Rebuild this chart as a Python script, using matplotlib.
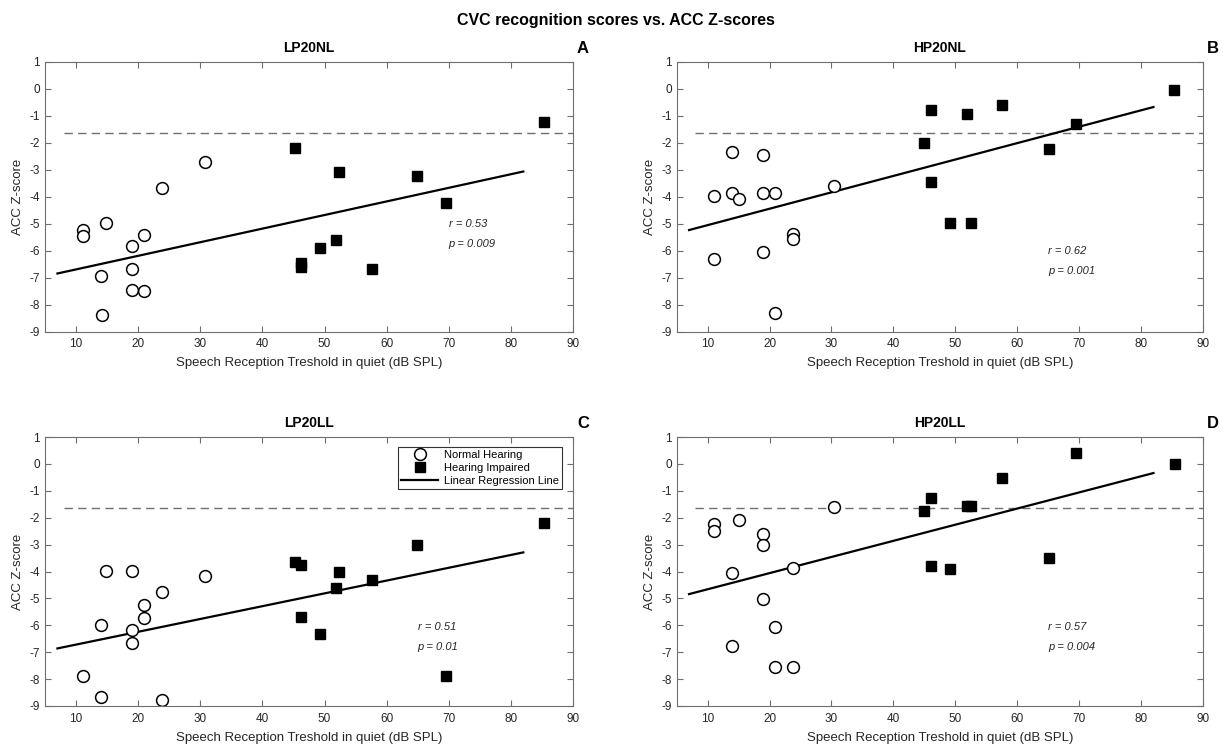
import matplotlib.pyplot as plt

plt.rcParams['font.family'] = ['Liberation Sans', 'DejaVu Sans']
plt.rcParams['axes.unicode_minus'] = False

# speech reception threshold (x) and ACC z-score (y), per condition
srt_nh_A = [11.1, 11.1, 14.9, 14.0, 14.1, 19.0, 19.0, 19.0, 20.9, 20.9, 23.9, 30.7]
z_nh_A = [-5.22, -5.46, -4.98, -6.95, -8.4, -5.82, -6.69, -7.46, -5.44, -7.5, -3.67, -2.71]
srt_hi_A = [45.2, 46.2, 46.2, 49.2, 51.8, 52.4, 57.6, 64.9, 69.5, 85.4]
z_hi_A = [-2.19, -6.45, -6.6, -5.92, -5.61, -3.09, -6.7, -3.22, -4.23, -1.24]

srt_nh_B = [11.0, 11.0, 13.9, 13.9, 15.0, 18.9, 18.9, 18.9, 20.9, 20.9, 23.8, 23.8, 30.4]
z_nh_B = [-3.98, -6.32, -2.34, -3.85, -4.08, -2.47, -3.85, -6.05, -3.85, -8.33, -5.40, -5.58, -3.61]
srt_hi_B = [44.9, 46.1, 46.1, 49.1, 51.9, 52.5, 57.5, 65.1, 69.5, 85.3]
z_hi_B = [-2.02, -0.78, -3.46, -4.96, -0.93, -4.96, -0.59, -2.25, -1.3, -0.06]

srt_nh_C = [14.9, 19.0, 30.7, 23.9, 20.9, 20.9, 14.0, 19.0, 19.0, 11.1, 14.0, 23.9]
z_nh_C = [-3.98, -3.98, -4.16, -4.76, -5.25, -5.74, -6.0, -6.17, -6.65, -7.89, -8.67, -8.76]
srt_hi_C = [45.2, 46.2, 46.2, 49.2, 51.8, 52.4, 57.6, 64.9, 69.5, 85.4]
z_hi_C = [-3.63, -3.75, -5.69, -6.31, -4.62, -4.02, -4.31, -3.0, -7.89, -2.2]

srt_nh_D = [11.0, 11.0, 15.0, 18.9, 18.9, 30.4, 23.85, 13.9, 18.9, 20.9, 13.9, 20.9, 23.85]
z_nh_D = [-2.24, -2.51, -2.09, -2.61, -3.02, -1.59, -3.88, -4.07, -5.03, -6.05, -6.78, -7.54, -7.54]
srt_hi_D = [44.9, 46.1, 46.1, 49.1, 51.9, 52.6, 57.5, 65.1, 69.5, 85.4]
z_hi_D = [-1.76, -1.27, -3.79, -3.9, -1.55, -1.55, -0.53, -3.48, 0.40, -0.02]

# regression line end points
reg_x = [7, 82]
reg_A = [-6.85, -3.07]
reg_B = [-5.24, -0.68]
reg_C = [-6.86, -3.29]
reg_D = [-4.84, -0.34]

r_vals = ['0.53', '0.62', '0.51', '0.57']
p_vals = ['0.009', '0.001', '0.01', '0.004']
titles = ['LP20NL', 'HP20NL', 'LP20LL', 'HP20LL']
letters = ['A', 'B', 'C', 'D']
z_crit = -1.645

panels = [
    (srt_nh_A, z_nh_A, srt_hi_A, z_hi_A, reg_A),
    (srt_nh_B, z_nh_B, srt_hi_B, z_hi_B, reg_B),
    (srt_nh_C, z_nh_C, srt_hi_C, z_hi_C, reg_C),
    (srt_nh_D, z_nh_D, srt_hi_D, z_hi_D, reg_D),
]

W, H = 1232, 744
fig = plt.figure(figsize=(W / 100, H / 100), dpi=100)

# axes boxes in pixels: left, right, top, bottom
boxes = [(45, 573, 61.7, 331.5), (676.7, 1203, 61.7, 331.5),
         (45, 573, 437, 706), (676.7, 1203, 437, 706)]
stat_pos = [(70, -5.0), (65, -6.03), (65, -6.07), (65, -6.07)]

spine_col = '#6e6e6e'
text_col = '#262626'

for i, (nx, ny, hx, hy, reg) in enumerate(panels):
    l, r, t, b = boxes[i]
    ax = fig.add_axes([l / W, 1 - b / H, (r - l) / W, (b - t) / H])
    ax.plot([8, 90], [z_crit, z_crit], color='#707070', lw=1, ls=(0, (6, 3.8)))
    ax.plot(reg_x, reg, color='black', lw=1.6, label='Linear Regression Line')
    ax.plot(nx, ny, 'o', ms=8.5, mfc='white', mec='black', mew=1.1, ls='none',
            label='Normal Hearing')
    ax.plot(hx, hy, 's', ms=7.2, mfc='black', mec='black', ls='none',
            label='Hearing Impaired')
    ax.set_xlim(5, 90)
    ax.set_ylim(-9, 1)
    ax.set_xticks(range(10, 91, 10))
    ax.set_yticks(range(-9, 2))
    ax.tick_params(direction='in', top=True, right=True, length=4, width=0.8,
                   colors=spine_col, labelcolor=text_col, labelsize=8.5)
    ax.tick_params(axis='x', pad=5)
    for s in ax.spines.values():
        s.set_color(spine_col)
        s.set_linewidth(0.8)
    ax.set_xlabel('Speech Reception Treshold in quiet (dB SPL)', fontsize=9.5,
                  color=text_col, labelpad=5)
    ax.set_ylabel('ACC Z-score', fontsize=9.5, color=text_col, labelpad=4)
    ax.set_title(titles[i], fontsize=10, fontweight='bold', pad=7)
    ax.text(1.019, 1.05, letters[i], transform=ax.transAxes, ha='center', va='center',
            fontsize=12, fontweight='bold')
    sx, sy = stat_pos[i]
    ax.text(sx, sy, f'r = {r_vals[i]}', fontsize=8, style='italic', color=text_col,
            va='center')
    ax.text(sx, sy - 0.74, f'p = {p_vals[i]}', fontsize=8, style='italic',
            color=text_col, va='center')
    if i == 2:
        h, lab = ax.get_legend_handles_labels()
        order = [1, 2, 0]
        leg = ax.legend([h[k] for k in order], [lab[k] for k in order],
                        loc='upper right', bbox_to_anchor=(0.979, 0.963),
                        borderaxespad=0, fontsize=8, fancybox=False,
                        edgecolor='#333333', framealpha=1, handlelength=3.3,
                        labelspacing=0.25, borderpad=0.3, handletextpad=0.5)
        leg.get_frame().set_linewidth(0.8)

fig.text(0.5, 1 - 20 / H, 'CVC recognition scores vs. ACC Z-scores', ha='center',
         va='center', fontsize=11.5, fontweight='bold')

fig.savefig('out.png', dpi=100)
